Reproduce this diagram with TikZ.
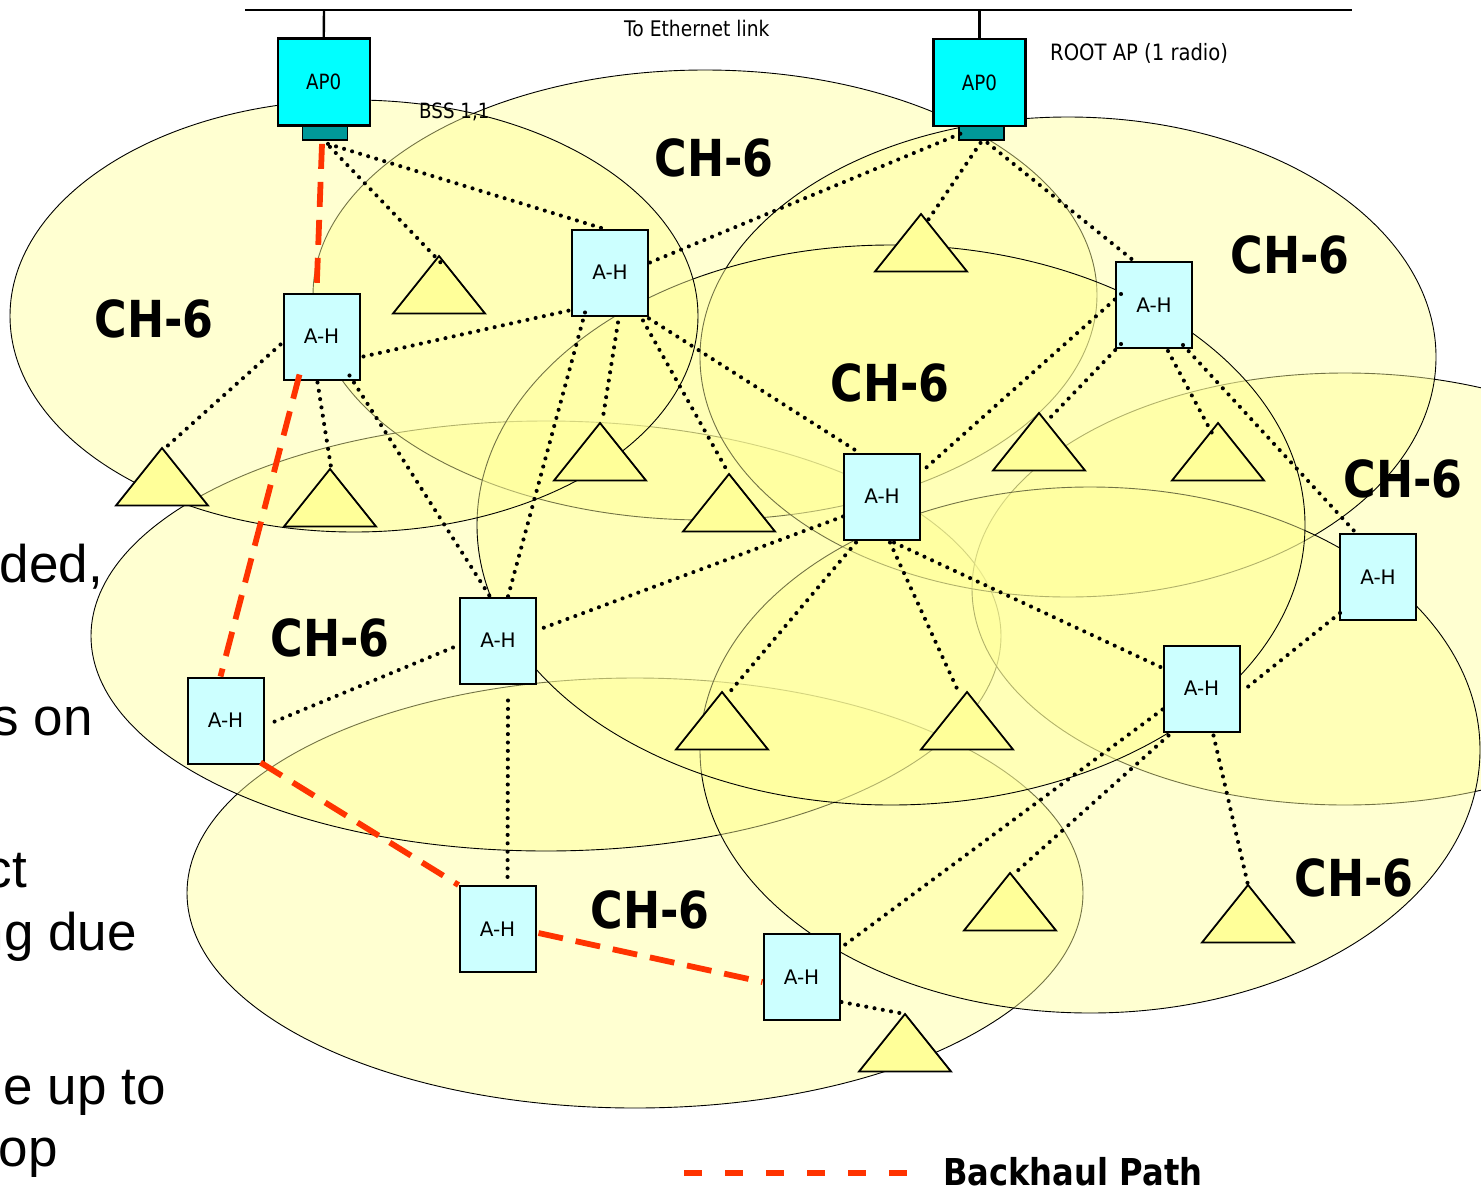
\documentclass[tikz,border=0pt]{standalone}
\usepackage{fontspec}
\setmainfont{DejaVu Sans}
\newfontfamily\tah[FakeStretch=0.87]{DejaVu Sans}
\newfontfamily\arl{Liberation Sans}
\usetikzlibrary{calc}

\definecolor{cellfill}{HTML}{FFFF99}
\definecolor{ahcyan}{HTML}{CCFFFF}
\definecolor{apcyan}{HTML}{00FFFF}
\definecolor{radioteal}{HTML}{009999}
\definecolor{trifill}{HTML}{FFFF99}
\definecolor{bhred}{HTML}{FF3300}

% station triangle hanging from its apex
\newcommand{\station}[3]{%
  \coordinate (#1) at (#2,#3);
  \draw[tri] (#1) -- ++(46,57.5) -- ++(-92,0) -- cycle;}

\begin{document}
\begin{tikzpicture}[x=1pt,y=-1pt,
  cell/.style={draw=black,line width=0.9pt,fill=cellfill,fill opacity=0.45},
  ah/.style={draw=black,line width=2pt,fill=ahcyan,minimum width=76pt,
    minimum height=86pt,inner sep=0pt,font=\fontsize{20}{22}\selectfont},
  ap/.style={draw=black,line width=2.4pt,fill=apcyan,minimum width=92pt,
    minimum height=87pt,inner sep=0pt,font=\tah\fontsize{21}{23}\selectfont},
  radio/.style={draw=black,line width=1.8pt,fill=radioteal,minimum width=45pt,
    minimum height=14pt,inner sep=0pt},
  tri/.style={draw=black,line width=1.8pt,fill=trifill,line join=miter},
  dl/.style={line width=4.1pt,line cap=round,dash pattern=on 0pt off 8.4pt},
  bh/.style={line width=5.8pt,draw=bhred,dash pattern=on 25pt off 13pt},
  chlab/.style={font=\tah\bfseries\fontsize{51}{56}\selectfont,inner sep=0pt},
  small/.style={anchor=base west,inner sep=0pt},
  side/.style={anchor=base east,inner sep=0pt,font=\arl\fontsize{53}{60}\selectfont}]

\useasboundingbox (0,0) rectangle (1481,1189);
\clip (0,0) rectangle (1481,1189);
\fill[white] (0,0) rectangle (1481,1189);

% coverage cells, back to front
\draw[cell] (635,893) ellipse [x radius=448, y radius=215];
\draw[cell] (546,636) ellipse [x radius=455, y radius=215];
\draw[cell] (705,295) ellipse [x radius=392, y radius=225];
\draw[cell] (1345,589) ellipse [x radius=373, y radius=216];
\draw[cell] (1068,357) ellipse [x radius=368, y radius=240];
\draw[cell] (1090,750) ellipse [x radius=390, y radius=263];
\draw[cell] (891,525) ellipse [x radius=414, y radius=280];
\draw[cell] (354,316) ellipse [x radius=344, y radius=216];

% channel labels
\node[chlab] (c1) at (154,319) {CH-6};
\node[chlab] (c2) at (714,158) {CH-6};
\node[chlab] (c3) at (1290,255) {CH-6};
\node[chlab] (c4) at (890,383) {CH-6};
\node[chlab] (c5) at (1403,479) {CH-6};
\node[chlab] (c6) at (330,638) {CH-6};
\node[chlab] (c7) at (650,910) {CH-6};
\node[chlab] (c8) at (1354,878) {CH-6};

% wired side
\coordinate (busA) at (245,10);
\coordinate (busB) at (1352,10);
\coordinate (busL) at (324,10);
\coordinate (busR) at (979.5,10);
\draw[line width=2.4pt] (busA) -- (busB);
\node[ap] (APL) at (323.75,82) {AP0};
\node[ap] (APR) at (979.5,82.5) {AP0};
\node[radio] (radL) at (325,133) {};
\node[radio] (radR) at (981.5,133) {};
\draw[line width=2.4pt] (APL.north) -- (busL);
\draw[line width=2.4pt] (APR.north) -- (busR);

\node[small,font=\tah\fontsize{21.5}{24}\selectfont] (eth) at (624,36) {To Ethernet link};
\node[small,font=\tah\fontsize{22.5}{25}\selectfont] (root) at (1050,60) {ROOT AP (1 radio)};
\node[small,font=\tah\fontsize{21}{24}\selectfont] (bss) at (419,118) {BSS 1,1};

% client stations
\station{T1}{439}{256}
\station{T2}{162}{448}
\station{T3}{330}{469}
\station{T4}{600}{423}
\station{T5}{729}{474}
\station{T6}{921}{214}
\station{T7}{1039}{413}
\station{T8}{1218}{423}
\station{T9}{722}{692}
\station{T10}{967}{692}
\station{T11}{1010}{873}
\station{T12}{1248}{885}
\station{T13}{905}{1014}

% ad-hoc mesh nodes
\node[ah] (AH1) at (321.5,336.5) {A-H};
\node[ah] (AH2) at (610,272.5) {A-H};
\node[ah] (AH3) at (1154,305) {A-H};
\node[ah] (AH4) at (882,496.5) {A-H};
\node[ah] (AH5) at (1378,577) {A-H};
\node[ah] (AH6) at (498,640.5) {A-H};
\node[ah] (AH7) at (225.5,720.5) {A-H};
\node[ah] (AH8) at (1201.5,688.5) {A-H};
\node[ah] (AH9) at (497.5,929) {A-H};
\node[ah] (AH10) at (801.5,977) {A-H};

% wireless associations
\draw[dl] ($(radL.south)+(3,3)$) -- ($(AH2.north)+(-7,0)$);
\draw[dl] ($(radL.south)+(5,6)$) -- ($(T1)+(5,10)$);
\draw[dl] ($(AH1.west)+(-2,8)$) -- ($(T2)+(2,1)$);
\draw[dl] ($(AH1.east)+(3,20)$) -- ($(AH2.west)+(-2,38)$);
\draw[dl] ($(AH1.south)+(-4,2)$) -- ($(T3)+(1,-2)$);
\draw[dl] ($(AH1.south east)+(-11,-5)$) -- ($(AH6.north)+(-8,0)$);
\draw[dl] ($(AH2.south west)+(14,-4)$) -- ($(AH6.north)+(10,0)$);
\draw[dl] ($(AH2.south)+(8,6)$) -- ($(T4)+(3,-6)$);
\draw[dl] ($(AH2.south east)+(-6,4)$) -- (T5);
\draw[dl] ($(AH2.south east)+(0,2)$) -- ($(AH4.north west)+(16,0)$);
\draw[dl] ($(AH2.east)+(1,-10)$) -- ($(radR.west)+(4,0)$);
\draw[dl] ($(radR.south)+(-1,2)$) -- ($(T6)+(3,12)$);
\draw[dl] ($(radR.south)+(6,2)$) -- ($(AH3.north)+(-20,0)$);
\draw[dl] ($(AH3.west)+(6,-11)$) -- ($(AH4.east)+(2,-26)$);
\draw[dl] ($(AH3.south west)+(6,-5)$) -- ($(T7)+(8,8)$);
\draw[dl] ($(AH3.south)+(14,2)$) -- ($(T8)+(-5,12)$);
\draw[dl] ($(AH3.south east)+(-10,-4)$) -- ($(AH5.north)+(-22,0)$);
\draw[dl] ($(AH4.west)+(0,20)$) -- ($(AH6.east)+(2,-11)$);
\draw[dl] ($(AH4.south)+(-26,2)$) -- ($(T9)+(6,2)$);
\draw[dl] ($(AH4.south)+(8,2)$) -- ($(T10)+(-8,1)$);
\draw[dl] ($(AH4.south)+(12,2)$) -- ($(AH8.west)+(-1,-21)$);
\draw[dl] ($(AH5.south west)+(1,-8)$) -- ($(AH8.east)+(4,1)$);
\draw[dl] ($(AH6.west)+(-6,7)$) -- ($(AH7.east)+(3,4)$);
\draw[dl] ($(AH6.south)+(10,16)$) -- ($(AH9.north)+(10,0)$);
\draw[dl] ($(AH8.west)+(0,21)$) -- ($(AH10.north east)+(0,15)$);
\draw[dl] ($(AH8.south west)+(6,3)$) -- ($(T11)+(5,0)$);
\draw[dl] ($(AH8.south)+(12,3)$) -- (T12);
\draw[dl] ($(AH10.east)+(1,25)$) -- (T13);

% backhaul path
\draw[bh] ($(radL.south)+(-3,3)$) -- ($(AH1.north)+(-5,0)$);
\draw[bh] ($(AH1.south)+(-22,-6)$) -- ($(AH7.north)+(-5,0)$);
\draw[bh] ($(AH7.south east)+(-4,-2)$) -- (AH9.north west);
\draw[bh] ($(AH9.east)+(2,4)$) -- ($(AH10.west)+(0,5)$);

% legend
\coordinate (lg1) at (684,1173);
\coordinate (lg2) at (908,1173);
\draw[line width=6pt,draw=bhred,dash pattern=on 18pt off 23pt] (lg1) -- (lg2);
\node[small,font=\tah\bfseries\fontsize{37}{40}\selectfont] (bhlab) at (943,1185) {Backhaul Path};

% bullet text running in from the left
\node[side] (s1) at (103,582) {ded,};
\node[side] (s2) at (93,735) {s on};
\node[side] (s3) at (27,887) {ct};
\node[side] (s4) at (137,950) {ng due};
\node[side] (s5) at (166,1104) {e up to};
\node[side] (s6) at (58,1166) {op};
\end{tikzpicture}
\end{document}
